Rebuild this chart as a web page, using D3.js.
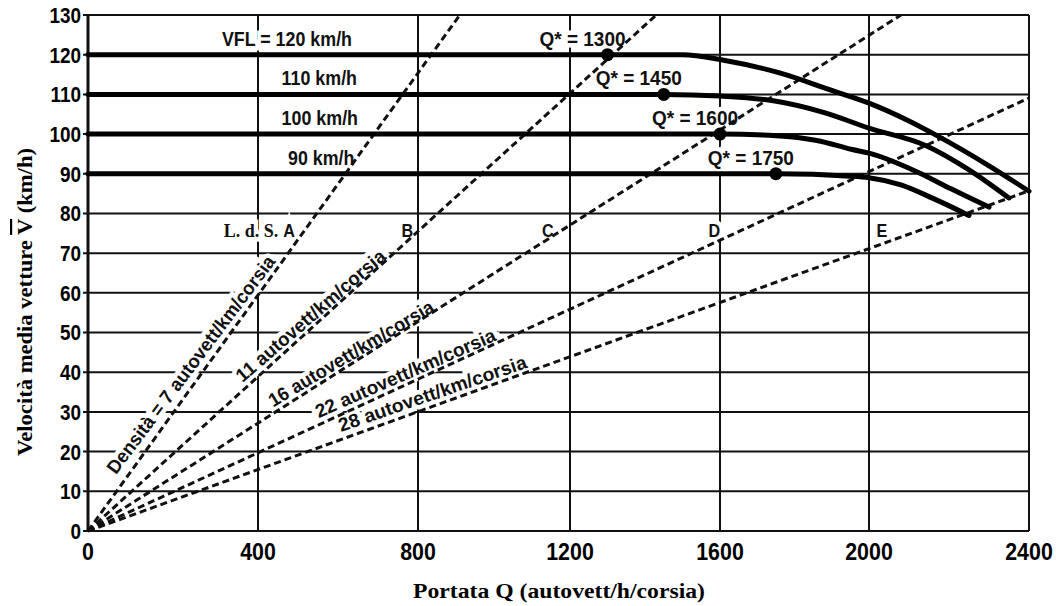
<!DOCTYPE html>
<html>
<head>
<meta charset="utf-8">
<script src="https://cdn.jsdelivr.net/npm/d3@7"></script>
<style>
  body { margin: 0; background: #fff; }
  svg { display: block; }
</style>
</head>
<body>
<svg id="chart" width="1056" height="606"></svg>
<script>
// data
const xTicks = [0, 400, 800, 1200, 1600, 2000, 2400];
const yTicks = [0, 10, 20, 30, 40, 50, 60, 70, 80, 90, 100, 110, 120, 130];

const freeFlowSpeeds = [120, 110, 100, 90];
const vflLabels = ["VFL = 120 km/h", "110 km/h", "100 km/h", "90 km/h"];
const breakpointFlows = [1300, 1450, 1600, 1750];

// speed-flow curves [Q, V]
const curve120 = [[0, 120], [1300, 120], [1500, 120], [1610, 118.6], [1760, 115.4], [1900, 111], [2000, 107.8], [2100, 103.3], [2170, 99.6], [2300, 92], [2400, 85.6]];
const curve110 = [[0, 110], [1450, 110], [1600, 109.6], [1735, 108.5], [1880, 105.4], [2000, 101.5], [2140, 97.2], [2250, 91], [2350, 83.9]];
const curve100 = [[0, 100], [1600, 100], [1750, 99.6], [1860, 98.4], [1955, 96.1], [2000, 95.2], [2122, 90.4], [2205, 86.2], [2300, 81.6]];
const curve90 = [[0, 90], [1750, 90], [1950, 89.4], [2000, 89], [2080, 87.2], [2160, 83.8], [2250, 79.5]];
const speedFlowCurves = [curve120, curve110, curve100, curve90];

const densities = [7, 11, 16, 22, 28];
const densityLabels = ["Densità = 7 autovett/km/corsia", "11 autovett/km/corsia", "16 autovett/km/corsia", "22 autovett/km/corsia", "28 autovett/km/corsia"];
const losLetters = ["A", "B", "C", "D", "E"];

const xTitle = "Portata Q (autovett/h/corsia)";

// layout
const sans = "'Liberation Sans',Arial,'DejaVu Sans',sans-serif";
const serif = "'Liberation Serif','Times New Roman',serif";

// squeeze text horizontally (the original uses a condensed face)
function condense(sel, f) {
  sel.each(function () {
    const w = this.getComputedTextLength();
    d3.select(this).attr("textLength", w * f).attr("lengthAdjust", "spacingAndGlyphs");
  });
}

const svg = d3.select("#chart");

// the scanned original is not evenly spaced along Q, so the scale is piecewise
const x = d3.scaleLinear().domain(xTicks).range([88, 258, 418, 570, 720, 869, 1029]);
const y = d3.scaleLinear().domain([0, 130]).range([531, 15]);

// grid
const grid = svg.append("g").attr("stroke", "#111").attr("stroke-width", 2);
grid.selectAll("line.h").data(yTicks).enter().append("line")
  .attr("class", "h")
  .attr("x1", x(0) - 5).attr("x2", x(2400))
  .attr("y1", d => y(d)).attr("y2", d => y(d));
grid.selectAll("line.v").data(xTicks.slice(1)).enter().append("line")
  .attr("class", "v")
  .attr("x1", d => x(d)).attr("x2", d => x(d))
  .attr("y1", y(0)).attr("y2", y(130));
// left axis heavier
svg.append("line")
  .attr("x1", x(0)).attr("x2", x(0)).attr("y1", y(0) + 1).attr("y2", y(130) - 1)
  .attr("stroke", "#111").attr("stroke-width", 3);

// tick labels
svg.append("g").selectAll("text").data(yTicks).enter().append("text")
  .attr("x", x(0) - 7).attr("y", d => y(d))
  .attr("dy", "0.36em")
  .attr("text-anchor", "end")
  .style("font", "bold 22px " + sans)
  .text(d => d)
  .call(condense, 0.86);
svg.append("g").selectAll("text").data(xTicks).enter().append("text")
  .attr("x", d => x(d)).attr("y", 560)
  .attr("text-anchor", "middle")
  .style("font", "bold 23px " + sans)
  .text(d => d)
  .call(condense, 0.93);

// axis titles
svg.append("text")
  .attr("x", 559).attr("y", 598)
  .attr("text-anchor", "middle")
  .attr("textLength", 292)
  .attr("lengthAdjust", "spacingAndGlyphs")
  .style("font", "bold 22px " + serif)
  .text(xTitle);
const yTitle = svg.append("text")
  .attr("transform", "translate(32,302) rotate(-90)")
  .attr("text-anchor", "middle")
  .attr("textLength", 308)
  .attr("lengthAdjust", "spacingAndGlyphs")
  .style("font", "bold 22px " + serif);
yTitle.append("tspan").text("Velocità media vetture ");
yTitle.append("tspan").style("text-decoration", "overline").text("V");
yTitle.append("tspan").text(" (km/h)");

// labels with white halo (they cut the grid, as in the original)
const labels = svg.append("g")
  .attr("stroke", "#fff").attr("stroke-width", 9)
  .attr("paint-order", "stroke").attr("fill", "#111");

// density labels along their lines
const densityLabelQ = [275, 560, 655, 786, 853];
const densityLabelLen = [267, 191, 189, 195, 198];
densities.forEach((k, i) => {
  const q = densityLabelQ[i];
  const a = Math.atan2(y(q / k) - y(0), x(q) - x(0)) * 180 / Math.PI;
  labels.append("text")
    .attr("transform", `translate(${x(q)},${y(q / k)}) rotate(${a})`)
    .attr("y", -11)
    .attr("text-anchor", "middle")
    .attr("textLength", densityLabelLen[i])
    .attr("lengthAdjust", "spacingAndGlyphs")
    .style("font", "bold 19px " + sans)
    .text(densityLabels[i]);
});

// level of service letters, just left of each density line
const losSpeed = 74;
labels.append("text")
  .attr("x", x(7 * losSpeed) - 27).attr("y", y(losSpeed))
  .attr("text-anchor", "end")
  .style("font", "bold 18px " + serif)
  .text("L. d. S.");
labels.selectAll("text.los").data(losLetters).enter().append("text")
  .attr("class", "los")
  .attr("x", (d, i) => x(densities[i] * losSpeed) - 16).attr("y", y(losSpeed))
  .attr("text-anchor", "middle")
  .style("font", "bold 19px " + sans)
  .text(d => d)
  .call(condense, 0.85);

// VFL labels
const vflLabelQ = [315, 459, 459, 475];
labels.selectAll("text.vfl").data(freeFlowSpeeds).enter().append("text")
  .attr("class", "vfl")
  .attr("x", (d, i) => x(vflLabelQ[i])).attr("y", d => y(d) - 9)
  .style("font", "bold 21px " + sans)
  .text((d, i) => vflLabels[i])
  .call(condense, 0.85);

// Q* labels
labels.selectAll("text.qs").data(breakpointFlows).enter().append("text")
  .attr("class", "qs")
  .attr("x", d => x(d) - 25)
  .attr("y", (d, i) => y(freeFlowSpeeds[i]) - 9)
  .attr("text-anchor", "middle")
  .style("font", "bold 20px " + sans)
  .text(d => "Q* = " + d)
  .call(condense, 0.95);

// density lines V = Q / k
const line = d3.line().x(d => x(d[0])).y(d => y(d[1]));
svg.append("g").selectAll("path").data(densities).enter().append("path")
  .attr("d", k => {
    const qEnd = Math.min(2400, 130 * k);
    return line([[0, 0], [qEnd, qEnd / k]]);
  })
  .attr("fill", "none")
  .attr("stroke", "#111")
  .attr("stroke-width", 3)
  .attr("stroke-dasharray", "7,4");

// speed-flow curves
const curve = d3.line().x(d => x(d[0])).y(d => y(d[1])).curve(d3.curveMonotoneX);
svg.append("g").selectAll("path").data(speedFlowCurves).enter().append("path")
  .attr("d", curve)
  .attr("fill", "none")
  .attr("stroke", "#000")
  .attr("stroke-width", 5)
  .attr("stroke-linecap", "round");

// breakpoints
svg.append("g").selectAll("circle").data(breakpointFlows).enter().append("circle")
  .attr("cx", d => x(d))
  .attr("cy", (d, i) => y(freeFlowSpeeds[i]))
  .attr("r", 6.5)
  .attr("fill", "#000");
</script>
</body>
</html>
